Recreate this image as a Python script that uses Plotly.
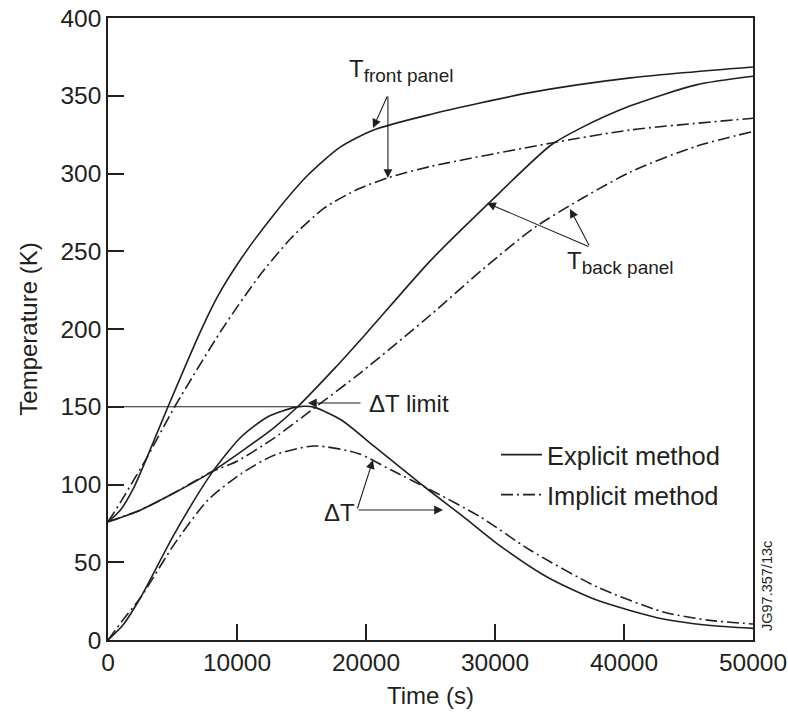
import plotly.graph_objects as go

# ---- data (time in s, temperature in K) ----
t_front_exp = [0, 1000, 2000, 3000, 4650, 7200, 8500, 10300, 12900, 15500, 18000, 20600, 25000, 32700, 40500, 50000]
T_front_exp = [76, 84, 98, 117, 150, 199, 221, 245, 274, 299, 317, 328, 338, 352, 361.5, 368.5]

t_front_imp = [0, 1000, 2000, 3000, 5170, 8780, 11630, 14200, 16800, 19400, 21800, 25000, 34300, 40500, 50000]
T_front_imp = [76, 89, 103, 117, 150, 199, 233, 258.5, 278, 290, 297.5, 304.5, 319.5, 328, 335.5]

t_back_exp = [0, 2500, 5000, 8000, 10300, 12900, 14700, 17600, 20000, 25000, 29400, 34300, 36600, 40500, 45600, 50000]
T_back_exp = [76, 83.5, 94, 108, 121, 136.8, 150, 175, 197, 244, 280, 318, 329, 343.5, 357, 362.5]

t_back_imp = [0, 2500, 5000, 8000, 10000, 12900, 15800, 19600, 25000, 29000, 33200, 40500, 45600, 50000]
T_back_imp = [76, 83.5, 94, 108, 115, 130, 148, 172, 209, 238, 266, 301, 317.5, 327]

t_dT_exp = [0, 1160, 2500, 5170, 8010, 10330, 12400, 14470, 15300, 16020, 18090, 20670, 23260, 25000, 27540, 30130, 34000, 37880, 43050, 46500, 50000]
dT_exp = [0, 9.6, 27, 68.6, 107, 130.7, 143.6, 149.6, 150.3, 149.6, 141.5, 124.3, 107, 95.5, 79.3, 62.2, 40.7, 25.7, 13.5, 9.5, 7.5]

t_dT_imp = [0, 1160, 2500, 5170, 7750, 10330, 12920, 16020, 19380, 21960, 25000, 28840, 32710, 37880, 43050, 46500, 50000]
dT_imp = [0, 12.9, 27, 62, 90, 107, 119, 124.8, 120, 109.3, 96.5, 79.3, 57.9, 34.3, 18, 12.8, 10.3]

t_limit = [0, 15000]
T_limit = [150, 150]

x_ticks = [0, 10000, 20000, 30000, 40000, 50000]
y_ticks = [0, 50, 100, 150, 200, 250, 300, 350, 400]

# annotation arrows: (head_t, head_T, tail_t, tail_T)
arrows = [
    (15500, 152.4, 19690, 152.4),   # dT limit
    (20540, 115.8, 19300, 83.6),    # dT -> implicit
    (25970, 83.6, 19300, 83.6),     # dT -> explicit
    (20540, 329.3, 21700, 350.5),   # T front explicit
    (21700, 297.1, 21700, 350.5),   # T front implicit
    (29380, 281.0, 37360, 252.7),   # T back explicit
    (35810, 277.2, 37360, 252.7),   # T back implicit
]

FONT = "Liberation Sans, Arial, Helvetica, sans-serif"
INK = "#231f20"
DASHDOT = "12px,4px,2px,4px"

fig = go.Figure()

def add(t, T, dash, name=None, legend=None, show=False, width=1.6):
    fig.add_trace(go.Scatter(
        x=t, y=T, mode="lines", name=name,
        line=dict(color=INK, width=width, dash=dash, shape="spline", smoothing=0.7),
        showlegend=show, legend=legend, hoverinfo="skip"))

add(t_front_exp, T_front_exp, "solid", "Explicit method", "legend", True)
add(t_back_exp, T_back_exp, "solid")
add(t_dT_exp, dT_exp, "solid")
add(t_front_imp, T_front_imp, DASHDOT, "Implicit method", "legend2", True)
add(t_back_imp, T_back_imp, DASHDOT)
add(t_dT_imp, dT_imp, DASHDOT)
fig.add_trace(go.Scatter(x=t_limit, y=T_limit, mode="lines",
                         line=dict(color=INK, width=1), showlegend=False, hoverinfo="skip"))

ann = []
for hx, hy, tx, ty in arrows:
    ann.append(dict(x=hx, y=hy, ax=tx, ay=ty, xref="x", yref="y", axref="x", ayref="y",
                    text="", showarrow=True, arrowhead=2, arrowsize=1.6, arrowwidth=1.1,
                    arrowcolor=INK, standoff=0, startstandoff=0))

txt_font = dict(family=FONT, size=24, color=INK)
ann += [
    dict(x=20080, y=152.4, xref="x", yref="y", text="ΔT limit", showarrow=False,
         xanchor="left", yanchor="middle", font=txt_font),
    dict(x=16590, y=81.7, xref="x", yref="y", text="ΔT", showarrow=False,
         xanchor="left", yanchor="middle", font=txt_font),
    dict(x=18530, y=366, xref="x", yref="y",
         text="T<sub><span style='font-size:19px'>front panel</span></sub>", showarrow=False,
         xanchor="left", yanchor="middle", font=txt_font),
    dict(x=35420, y=243, xref="x", yref="y",
         text="T<sub><span style='font-size:19px'>back panel</span></sub>", showarrow=False,
         xanchor="left", yanchor="middle", font=txt_font),
    dict(x=1.0217, y=0.0868, xref="paper", yref="paper", text="JG97.357/13c", showarrow=False,
         textangle=-90, xanchor="center", yanchor="middle",
         font=dict(family=FONT, size=14.5, color=INK)),
]

axis_common = dict(showline=True, mirror=True, linecolor=INK, linewidth=1.5,
                   ticks="inside", ticklen=16, tickwidth=1.5, tickcolor=INK,
                   showgrid=False, zeroline=False, automargin=False,
                   tickfont=dict(family=FONT, size=24.5, color=INK))

fig.update_layout(
    width=788, height=715,
    margin=dict(l=108, r=35, t=18, b=75),
    paper_bgcolor="white", plot_bgcolor="white",
    font=dict(family=FONT, size=24, color=INK),
    xaxis=dict(range=[0, 50000], tickvals=x_ticks, ticktext=[str(v) for v in x_ticks],
               title=dict(text="Time (s)", font=dict(family=FONT, size=24, color=INK), standoff=12),
               **axis_common),
    yaxis=dict(range=[0, 400], tickvals=y_ticks, ticktext=[str(v) for v in y_ticks],
               title=dict(text="Temperature (K)", font=dict(family=FONT, size=24, color=INK), standoff=16),
               **axis_common),
    legend=dict(x=0.6016, y=0.2974, xanchor="left", yanchor="middle", bgcolor="rgba(0,0,0,0)",
                font=dict(family=FONT, size=25.5, color=INK), itemwidth=41),
    legend2=dict(x=0.6016, y=0.2331, xanchor="left", yanchor="middle", bgcolor="rgba(0,0,0,0)",
                 font=dict(family=FONT, size=25.5, color=INK), itemwidth=41),
    annotations=ann,
    showlegend=True,
)

fig.write_html("out.html")
